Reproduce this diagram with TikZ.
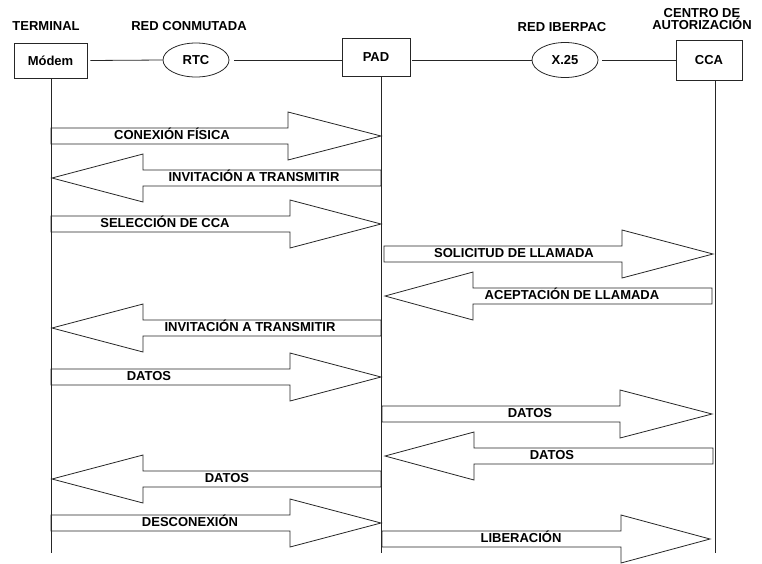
\documentclass[tikz,border=0pt]{standalone}
\usepackage{fontspec}
\setmainfont{Liberation Sans}
\usetikzlibrary{shapes.geometric}
\definecolor{ink}{gray}{0.15}
\tikzset{
  txt/.style={font=\bfseries\fontsize{13}{14}\selectfont, text=black},
  unitbox/.style={txt, draw=ink, line width=0.9pt, rectangle, inner sep=0pt},
  netcloud/.style={txt, draw=ink, line width=0.8pt, ellipse, inner sep=0pt},
  wire/.style={draw=ink, line width=0.8pt},
  lifeline/.style={draw=ink, line width=0.9pt},
  blockmsg/.style={draw=ink, line width=0.8pt, line join=miter, fill=white},
  msglabel/.style={txt, inner sep=0pt, text height=0.716em, text depth=0pt},
  header/.style={txt, inner sep=0pt, align=center}
}
% #1 name, #2 centre y, #3 tail x, #4 head base x, #5 tip x, #6 label x, #7 text
\newcommand\blockmessage[7]{%
  \draw[blockmsg] (#3,#2-8) -- (#4,#2-8) -- (#4,#2-24) -- (#5,#2)
     -- (#4,#2+24) -- (#4,#2+8) -- (#3,#2+8) -- cycle;
  \node[msglabel] (#1) at (#6,#2) {#7};}
\begin{document}
\begin{tikzpicture}[x=1pt,y=-1pt]
\useasboundingbox (0,0) rectangle (762,563);

% headings
\node[header] (hterm) at (46,26) {TERMINAL};
\node[header] (hrtc)  at (189,26) {RED CONMUTADA};
\node[header] (hx25)  at (562,27) {RED IBERPAC};
\node[header] (hcca)  at (702,19) {CENTRO DE\\[-2pt]AUTORIZACIÓN};

% equipment and networks
\node[unitbox, minimum width=73pt, minimum height=35pt] (modem) at (50.5,60.5) {Módem};
\node[netcloud, minimum width=66pt, minimum height=34pt] (rtc) at (196,60) {RTC};
\node[unitbox, minimum width=68pt, minimum height=38pt] (pad) at (376,57) {PAD};
\node[netcloud, minimum width=66pt, minimum height=35pt] (x25) at (565,60) {X.25};
\node[unitbox, minimum width=66pt, minimum height=40pt] (cca) at (709,60) {CCA};

\draw[wire] (modem.east) ++(3,0) -- (rtc.west);
\draw[wire] (rtc.east) ++(5,0) -- (rtc.east -| pad.west);
\draw[wire] (x25.east -| pad.east) ++(2,0) -- (x25.west);
\draw[wire] (x25.east) ++(4,0) -- (x25.east -| cca.west);

% lifelines
\coordinate (tx) at (51,553);
\coordinate (px) at (381,553);
\coordinate (cx) at (715,553);

% message exchange
\blockmessage{m1}{136}{51}{288}{381}{172}{CONEXIÓN FÍSICA}
\blockmessage{m2}{178}{381}{143}{52}{254}{INVITACIÓN A TRANSMITIR}
\blockmessage{m3}{224}{51}{290}{381}{165}{SELECCIÓN DE CCA}
\blockmessage{m4}{254}{384}{622}{713}{514}{SOLICITUD DE LLAMADA}
\blockmessage{m5}{296}{712}{473}{385}{572}{ACEPTACIÓN DE LLAMADA}
\blockmessage{m6}{328}{381}{143}{52}{250}{INVITACIÓN A TRANSMITIR}
\blockmessage{m7}{377}{51}{290}{381}{149}{DATOS}
\blockmessage{m8}{414}{382}{620}{712}{530}{DATOS}
\blockmessage{m9}{456}{713}{474}{385}{552}{DATOS}
\blockmessage{m10}{479}{381}{143}{52}{227}{DATOS}
\blockmessage{m11}{523}{51}{290}{381}{190}{DESCONEXIÓN}
\blockmessage{m12}{539}{382}{621}{710}{521}{LIBERACIÓN}

% lifelines drawn over the filled arrows
\draw[lifeline] (tx |- modem.south) -- (tx);
\draw[lifeline] (px |- pad.south) -- (px);
\draw[lifeline] (cx |- cca.south) -- (cx);
\end{tikzpicture}
\end{document}
